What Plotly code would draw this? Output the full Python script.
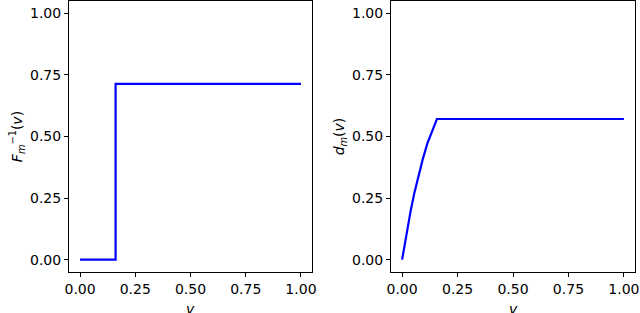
import plotly.graph_objects as go

# Left panel: inverse CDF (step)
v_left = [0.0, 0.161, 0.161, 1.0]
f_inv = [0.0, 0.0, 0.714, 0.714]

# Right panel: d_m(v)
v_right = [0.0, 0.02, 0.039, 0.055, 0.072, 0.093, 0.114, 0.135, 0.157, 1.0]
d_m = [0.0, 0.107, 0.20, 0.27, 0.336, 0.407, 0.472, 0.524, 0.571, 0.571]

tick_vals = [0.0, 0.25, 0.5, 0.75, 1.0]
tick_text = ["0.00", "0.25", "0.50", "0.75", "1.00"]

W, H = 640, 313
FS = 14
fig = go.Figure()
fig.add_trace(go.Scatter(x=v_left, y=f_inv, mode="lines",
                         line=dict(color="#0000ff", width=2.2), xaxis="x", yaxis="y"))
fig.add_trace(go.Scatter(x=v_right, y=d_m, mode="lines",
                         line=dict(color="#0000ff", width=2.2), xaxis="x2", yaxis="y2"))

ydom = [(H - 272) / H, (H - 1) / H]
axis_common = dict(range=[-0.05, 1.05], tickvals=tick_vals, ticktext=tick_text,
                   showgrid=False, zeroline=False, showline=True, mirror=True,
                   linecolor="black", linewidth=1, ticks="outside", ticklen=4,
                   tickcolor="black", tickwidth=1, automargin=False,
                   tickfont=dict(family="DejaVu Sans", size=FS, color="black"))

xd1 = [69 / W, 312 / W]
xd2 = [391 / W, 635 / W]
fig.update_layout(
    width=W, height=H, margin=dict(l=0, r=0, t=0, b=0),
    paper_bgcolor="white", plot_bgcolor="white", showlegend=False,
    font=dict(family="DejaVu Sans", size=FS, color="black"),
    xaxis=dict(domain=xd1, anchor="y", **axis_common),
    yaxis=dict(domain=ydom, anchor="x",
               title=dict(text="<i>F</i><sub><i>m</i></sub><sup>−1</sup>(<i>v</i>)",
                          standoff=4, font=dict(size=FS)), **axis_common),
    xaxis2=dict(domain=xd2, anchor="y2", **axis_common),
    yaxis2=dict(domain=ydom, anchor="x2",
                title=dict(text="<i>d</i><sub><i>m</i></sub>(<i>v</i>)",
                           standoff=4, font=dict(size=FS)), **axis_common),
)
for dom in (xd1, xd2):
    fig.add_annotation(text="<i>v</i>", xref="paper", yref="paper",
                       x=(dom[0] + dom[1]) / 2, y=(H - 299) / H,
                       xanchor="center", yanchor="top", showarrow=False,
                       font=dict(family="DejaVu Sans", size=FS, color="black"))

fig.write_html("out.html", config={"displayModeBar": False},
               post_script="document.body.style.margin='0';document.body.style.padding='0';")
